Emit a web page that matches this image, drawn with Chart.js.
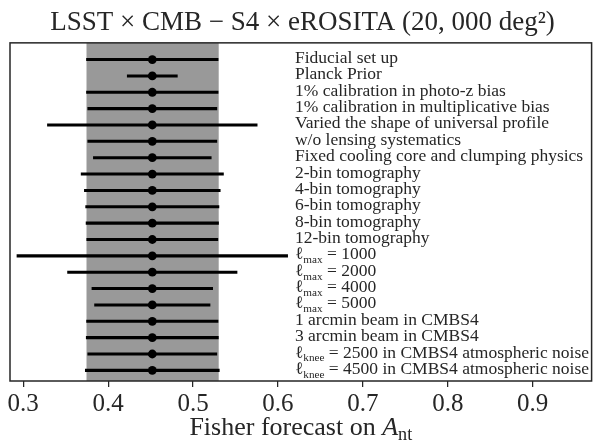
<!DOCTYPE html>
<html>
<head>
<meta charset="utf-8">
<script src="https://cdn.jsdelivr.net/npm/chart.js@4.4.1/dist/chart.umd.min.js"></script>
<style>
  html, body { margin: 0; padding: 0; background: #fff; }
</style>
</head>
<body>
<canvas id="myChart" width="596" height="443"></canvas>
<script>
// rows, top to bottom
const rowLabels = [
  'Fiducial set up',
  'Planck Prior',
  '1% calibration in photo-z bias',
  '1% calibration in multiplicative bias',
  'Varied the shape of universal profile',
  'w/o lensing systematics',
  'Fixed cooling core and clumping physics',
  '2-bin tomography',
  '4-bin tomography',
  '6-bin tomography',
  '8-bin tomography',
  '12-bin tomography',
  'ℓ_{max} = 1000',
  'ℓ_{max} = 2000',
  'ℓ_{max} = 4000',
  'ℓ_{max} = 5000',
  '1 arcmin beam in CMBS4',
  '3 arcmin beam in CMBS4',
  'ℓ_{knee} = 2500 in CMBS4 atmospheric noise',
  'ℓ_{knee} = 4500 in CMBS4 atmospheric noise'
];
const centres = [0.452, 0.452, 0.452, 0.452, 0.452, 0.452, 0.452, 0.452, 0.452, 0.452,
                 0.452, 0.452, 0.452, 0.452, 0.452, 0.452, 0.452, 0.452, 0.452, 0.452];
const sigmas = [0.0775, 0.0295, 0.0775, 0.076, 0.1235, 0.076, 0.0694, 0.0838, 0.080, 0.0785,
                0.078, 0.0772, 0.1594, 0.0998, 0.0711, 0.068, 0.0774, 0.0778, 0.076, 0.0789];
const fiducialBand = [0.3745, 0.5302];
const xTicks = [0.3, 0.4, 0.5, 0.6, 0.7, 0.8, 0.9];
const labelX = 0.62;

const serif = "'Liberation Serif', 'DejaVu Serif', serif";
const ink = '#262626';

// rich text: 'ℓ_{max}' -> subscript
function drawRich(ctx, text, x, y, size) {
  const parts = text.split(/_\{([^}]*)\}/);
  let cx = x;
  parts.forEach((p, k) => {
    if (!p) return;
    if (k % 2 === 1) {
      ctx.font = (size * 0.64) + 'px ' + serif;
      ctx.fillText(p, cx, y + size * 0.22);
    } else {
      ctx.font = size + 'px ' + serif;
      ctx.fillText(p, cx, y);
    }
    cx += ctx.measureText(p).width;
  });
  return cx;
}

const bandPlugin = {
  id: 'band',
  beforeDatasetsDraw(chart) {
    const {ctx, chartArea, scales} = chart;
    const x0 = scales.x.getPixelForValue(fiducialBand[0]);
    const x1 = scales.x.getPixelForValue(fiducialBand[1]);
    ctx.save();
    ctx.fillStyle = '#999999';
    ctx.fillRect(x0, chartArea.top, x1 - x0, chartArea.bottom - chartArea.top);
    ctx.restore();
  }
};

const textPlugin = {
  id: 'texts',
  afterDraw(chart) {
    const {ctx, chartArea, scales} = chart;
    ctx.save();
    // frame
    ctx.strokeStyle = ink;
    ctx.lineWidth = 1.5;
    ctx.strokeRect(chartArea.left, chartArea.top, chartArea.right - chartArea.left, chartArea.bottom - chartArea.top);
    // row labels
    ctx.fillStyle = ink;
    ctx.textBaseline = 'alphabetic';
    ctx.textAlign = 'left';
    const lx = scales.x.getPixelForValue(labelX);
    rowLabels.forEach((lab, i) => {
      drawRich(ctx, lab, lx, scales.y.getPixelForValue(i) + 3.5, 17.5);
    });
    // x axis title
    const size = 26;
    ctx.font = size + 'px ' + serif;
    const a = 'Fisher forecast on ';
    const wa = ctx.measureText(a).width;
    ctx.font = 'italic ' + size + 'px ' + serif;
    const wA = ctx.measureText('A').width;
    ctx.font = (size * 0.7) + 'px ' + serif;
    const wn = ctx.measureText('nt').width;
    const cx = (chartArea.left + chartArea.right) / 2;
    let x = cx - (wa + wA + wn) / 2;
    const base = 435;
    ctx.font = size + 'px ' + serif;
    ctx.fillText(a, x, base);
    x += wa;
    ctx.font = 'italic ' + size + 'px ' + serif;
    ctx.fillText('A', x, base);
    x += wA;
    ctx.font = (size * 0.7) + 'px ' + serif;
    ctx.fillText('nt', x, base + size * 0.2);
    ctx.restore();
  }
};

const ctx = document.getElementById('myChart').getContext('2d');
const myChart = new Chart(ctx, {
  type: 'bar',
  data: {
    datasets: [{
      type: 'scatter',
      data: centres.map((c, i) => ({x: c, y: i})),
      backgroundColor: '#000',
      borderWidth: 0,
      pointRadius: 4.4,
      order: 0
    }, {
      type: 'bar',
      data: centres.map((c, i) => ({x: [c - sigmas[i], c + sigmas[i]], y: i})),
      backgroundColor: '#000',
      borderWidth: 0,
      barThickness: 2.4,
      order: 1
    }]
  },
  options: {
    indexAxis: 'y',
    responsive: false,
    animation: false,
    devicePixelRatio: 1,
    layout: { padding: { left: 10, right: 1, top: 0, bottom: 0 } },
    plugins: {
      legend: { display: false },
      tooltip: { enabled: false },
      title: {
        display: true,
        text: 'LSST × CMB − S4 × eROSITA (20, 000 deg²)',
        color: ink,
        font: { family: serif, size: 27, weight: 'normal', lineHeight: 1.18 },
        padding: { top: 7, bottom: 4 }
      }
    },
    scales: {
      x: {
        type: 'linear',
        min: 0.2844,
        max: 0.9694,
        afterBuildTicks(scale) { scale.ticks = xTicks.map(v => ({value: v})); },
        afterFit(scale) { scale.height = 62; },
        ticks: {
          color: ink,
          padding: 2,
          font: { family: serif, size: 25 },
          callback: v => v.toFixed(1)
        },
        grid: { drawOnChartArea: false, drawTicks: true, tickLength: 6, color: ink, lineWidth: 1.25 },
        border: { display: false }
      },
      y: {
        type: 'linear',
        min: -1.02,
        max: 19.65,
        reverse: true,
        offset: false,
        display: false
      }
    }
  },
  plugins: [bandPlugin, textPlugin]
});
</script>
</body>
</html>
